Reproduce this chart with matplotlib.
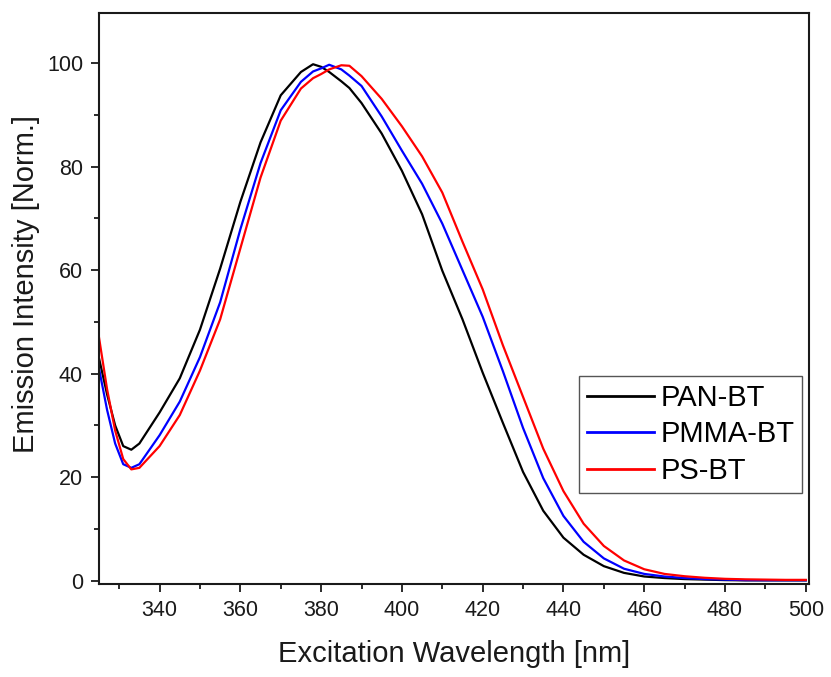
import matplotlib
matplotlib.use("Agg")
import matplotlib.pyplot as plt
from matplotlib.ticker import MultipleLocator

plt.rcParams['font.family'] = ['Liberation Sans', 'DejaVu Sans']

wavelength = [325, 327, 329, 331, 333, 335, 340, 345, 350, 355, 360, 365, 370, 375,
              378, 380, 382, 385, 387, 390, 395, 400, 405, 410, 415, 420, 425, 430,
              435, 440, 445, 450, 455, 460, 465, 470, 475, 480, 485, 490, 495, 500]

pan_bt = [43, 36, 30, 26, 25.3, 26.5, 32.5, 39.1, 48.5, 60.3, 73.2, 84.7, 93.8, 98.3,
          99.8, 99.3, 98.3, 96.5, 95.2, 92.3, 86.4, 79.2, 70.8, 59.9, 50.5, 40.2, 30.5, 21,
          13.5, 8.3, 5, 2.8, 1.5, 0.8, 0.5, 0.3, 0.2, 0.1, 0.05, 0.05, 0.05, 0.05]

pmma_bt = [41, 33, 26.5, 22.5, 21.8, 22.5, 28.1, 34.6, 43.2, 53.8, 67.9, 80.7, 90.9, 96.4,
           98.4, 99.0, 99.7, 98.8, 97.6, 95.6, 89.7, 83.1, 76.7, 69, 60, 51, 40.5, 29.5,
           19.8, 12.5, 7.5, 4.3, 2.3, 1.3, 0.8, 0.5, 0.3, 0.2, 0.1, 0.08, 0.08, 0.08]

ps_bt = [47, 37, 29, 23.5, 21.5, 21.8, 26, 32, 40.6, 50.5, 64.2, 77.9, 88.9, 95.1,
         97.1, 97.9, 98.8, 99.6, 99.5, 97.5, 93.1, 87.8, 82, 75, 65.5, 56.3, 45.5, 35.5,
         25.5, 17.3, 11, 6.7, 3.9, 2.2, 1.3, 0.85, 0.55, 0.35, 0.25, 0.2, 0.15, 0.15]

series_names = ["PAN-BT", "PMMA-BT", "PS-BT"]
series_colors = ["#000000", "#0000FF", "#FF0000"]

fig = plt.figure(figsize=(8.31, 6.77), dpi=100)
ax = fig.add_axes([99/831, 1-584/677, 710/831, 571/677])

for vals, name, col in zip([pan_bt, pmma_bt, ps_bt], series_names, series_colors):
    ax.plot(wavelength, vals, color=col, lw=1.6, label=name)

ax.set_xlim(325, 500.8)
ax.set_ylim(-0.65, 109.7)
ax.xaxis.set_major_locator(MultipleLocator(20))
ax.xaxis.set_minor_locator(MultipleLocator(10))
ax.yaxis.set_major_locator(MultipleLocator(20))
ax.yaxis.set_minor_locator(MultipleLocator(10))
ax.tick_params(which='both', direction='out', width=1.3, labelsize=15.5, colors='#1a1a1a')
ax.tick_params(which='major', length=5.5, pad=6)
ax.tick_params(which='minor', length=3.5)
for s in ax.spines.values():
    s.set_linewidth(1.5)
    s.set_color('#1a1a1a')

ax.set_xlabel("Excitation Wavelength [nm]", fontsize=21, color='#1a1a1a', labelpad=14)
ax.set_ylabel("Emission Intensity [Norm.]", fontsize=21, color='#1a1a1a')
ax.yaxis.set_label_coords(-0.083, 0.525)

leg = ax.legend(loc='upper left', bbox_to_anchor=(0.676, 0.364), borderaxespad=0,
                fontsize=21, fancybox=False, framealpha=1, edgecolor='#555555',
                handlelength=2.3, handletextpad=0.24, labelspacing=0.3,
                borderpad=0.26)
leg.get_frame().set_linewidth(1.0)
for line in leg.get_lines():
    line.set_linewidth(2.0)

fig.savefig("out.png", dpi=100)
